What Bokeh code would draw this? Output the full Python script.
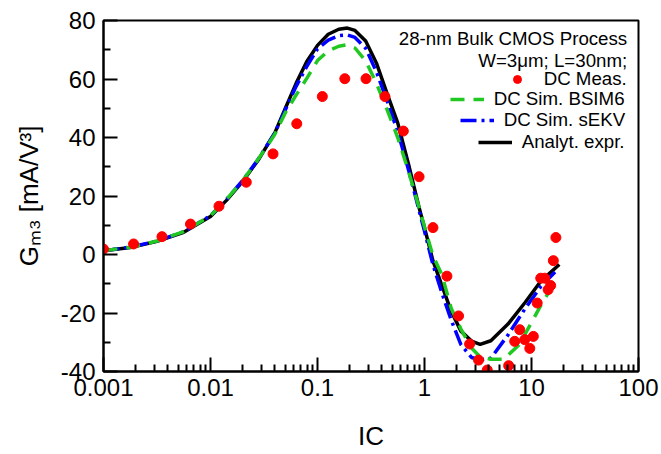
import numpy as np
from bokeh.plotting import figure
from bokeh.models import (Range1d, FixedTicker, CustomJSTickFormatter, Legend,
                          LegendItem, Label)
from bokeh.embed import file_html
from bokeh.resources import INLINE

# ---------------- data ----------------
meas_ic = [0.001, 0.00191, 0.00352, 0.0065, 0.012, 0.0216, 0.0384, 0.064, 0.111,
           0.180, 0.284, 0.427, 0.634, 0.89, 1.2, 1.62, 2.08, 2.64, 3.2, 3.86,
           6.12, 6.97, 7.76, 8.65, 9.64, 10.4, 11.3, 12.2, 13.3, 14.3, 15.1,
           16.0, 16.9]
meas_gm3 = [1.85, 3.6, 6.1, 10.4, 16.5, 24.7, 34.4, 44.7, 54.0,
            60.1, 60.1, 54.0, 42.2, 26.6, 9.2, -7.4, -21.0, -30.6, -36.1, -39.5,
            -38.0, -29.7, -25.7, -29.1, -32.1, -28.0, -16.6, -8.1, -8.1, -12.0, -10.6,
            -2.1, 5.8]

an_ic = [0.001, 0.00178, 0.00316, 0.00562, 0.01, 0.0141, 0.02, 0.0282, 0.0398,
         0.0501, 0.0631, 0.0794, 0.1, 0.126, 0.158, 0.19, 0.224, 0.282, 0.355,
         0.447, 0.562, 0.708, 0.891, 1.0, 1.2, 1.45, 1.78, 2.19, 2.75, 3.31,
         4.17, 6.03, 8.71, 12.3, 18.2]
an_gm3 = [1.3, 2.4, 4.5, 7.6, 13.0, 18.5, 25.0, 32.5, 41.5,
          50.0, 58.5, 66.0, 71.5, 75.3, 77.0, 77.4, 76.6, 73.0, 65.5,
          55.0, 45.0, 31.0, 16.0, 9.2, -2.2, -10.5, -19.5, -26.2, -29.6, -30.7,
          -29.5, -23.8, -16.4, -9.0, -3.4]

ekv_ic = [0.001, 0.00178, 0.00316, 0.00562, 0.01, 0.0141, 0.02, 0.0282, 0.0398,
          0.0501, 0.0631, 0.0794, 0.1, 0.126, 0.158, 0.19, 0.224, 0.282, 0.355,
          0.447, 0.562, 0.708, 0.891, 1.0, 1.2, 1.45, 1.78, 2.19, 2.75, 3.31,
          4.17, 6.03, 8.71, 12.3, 16.6]
ekv_gm3 = [1.3, 2.5, 4.6, 7.8, 13.3, 18.8, 25.3, 32.8, 41.5,
           49.5, 57.5, 64.3, 70.3, 73.3, 74.8, 75.1, 74.2, 70.5, 62.5,
           52.5, 42.0, 29.0, 15.0, 8.0, -3.5, -13.0, -22.5, -30.8, -35.2, -36.0,
           -35.5, -27.5, -18.5, -10.8, -6.0]

bsim_ic = [0.001, 0.00178, 0.00316, 0.00562, 0.01, 0.0141, 0.02, 0.0282, 0.0398,
           0.0501, 0.0631, 0.0794, 0.1, 0.126, 0.158, 0.19, 0.224, 0.282, 0.355,
           0.447, 0.562, 0.708, 0.891, 1.0, 1.2, 1.45, 1.78, 2.19, 2.75, 3.31,
           4.17, 5.5, 7.59, 9.55, 12.3, 15.8]
bsim_gm3 = [1.3, 2.5, 4.6, 7.8, 13.3, 18.8, 25.3, 32.8, 41.0,
            48.5, 54.5, 60.2, 66.3, 69.6, 71.2, 71.7, 70.6, 66.2, 58.6,
            49.5, 40.0, 28.5, 16.0, 9.5, -0.5, -6.8, -18.5, -25.5, -32.0, -35.0,
            -35.8, -35.8, -31.0, -24.6, -17.2, -10.7]

x_ticks = [0.001, 0.01, 0.1, 1, 10, 100]
x_minor = [m * d for d in [0.001, 0.01, 0.1, 1, 10] for m in range(2, 10)]
y_ticks = [-40, -20, 0, 20, 40, 60, 80]
y_minor = [-30, -10, 10, 30, 50, 70]

FONT = "Liberation Sans"

p = figure(width=661, height=454, x_axis_type="log",
           x_range=Range1d(0.001, 100), y_range=Range1d(-40, 80),
           output_backend="svg", toolbar_location=None,
           min_border_left=103, min_border_right=23,
           min_border_top=20, min_border_bottom=83,
           background_fill_color="white", border_fill_color="white")

p.xgrid.visible = False
p.ygrid.visible = False
p.outline_line_color = "black"
p.outline_line_width = 2

fmt = CustomJSTickFormatter(code="return tick.toString();")
for ax in (p.xaxis[0], p.yaxis[0]):
    ax.axis_line_width = 2
    ax.axis_line_color = "black"
    ax.major_tick_in = 14
    ax.major_tick_out = 0
    ax.minor_tick_in = 7
    ax.minor_tick_out = 0
    ax.major_tick_line_width = 2
    ax.minor_tick_line_width = 2
    ax.major_label_text_font = FONT
    ax.major_label_text_font_size = "24px"
    ax.major_label_text_color = "black"
    ax.formatter = fmt
    ax.axis_label_text_font = FONT
    ax.axis_label_text_font_style = "normal"
    ax.axis_label_text_font_size = "26px"
    ax.axis_label_text_color = "black"

p.xaxis[0].ticker = FixedTicker(ticks=x_ticks, minor_ticks=x_minor)
p.xaxis[0].major_label_standoff = 7
p.xaxis[0].axis_label = "IC"
p.xaxis[0].axis_label_standoff = 22

p.yaxis[0].ticker = FixedTicker(ticks=y_ticks, minor_ticks=y_minor)
p.yaxis[0].major_label_standoff = 8
p.yaxis[0].axis_label = "G\u2098\u2083 [mA/V\u00b3]"
p.yaxis[0].axis_label_standoff = 14

# curves
r_an = p.line(an_ic, an_gm3, line_color="black", line_width=3.5)
r_ekv = p.line(ekv_ic, ekv_gm3, line_color="#0000ff", line_width=3.5,
               line_dash="16 5 3 5")
r_bsim = p.line(bsim_ic, bsim_gm3, line_color="#22c822", line_width=3.5,
                line_dash="14 9")
r_meas = p.scatter(meas_ic, meas_gm3, size=10, fill_color="#ff0000",
                   line_color="#ff0000")

# legend: one legend per entry so that labels end at the same right edge
common = dict(glyph_width=34, glyph_height=20, label_height=20, label_standoff=10,
              padding=0, margin=0, border_line_alpha=0, background_fill_alpha=0,
              label_text_font=FONT, label_text_font_size="18.7px",
              label_text_color="black")
entries = [("DC Meas.", r_meas, (396.7, 281.5)),
           ("DC Sim. BSIM6", r_bsim, (346.7, 261.5)),
           ("DC Sim. sEKV", r_ekv, (356.7, 239.8)),
           ("Analyt. expr.", r_an, (374.7, 218.2))]
for lab, rend, loc in entries:
    p.add_layout(Legend(items=[LegendItem(label=lab, renderers=[rend])],
                        location=loc, **common))

for txt, yy in [("28-nm Bulk CMOS Process", 333.2), ("W=3\u03bcm; L=30nm;", 311.5)]:
    p.add_layout(Label(x=523.7, y=yy, x_units="screen", y_units="screen", text=txt,
                       text_align="right", text_baseline="middle",
                       text_font=FONT, text_font_size="18.7px", text_color="black"))

open("out.html", "w").write(file_html(p, INLINE))
